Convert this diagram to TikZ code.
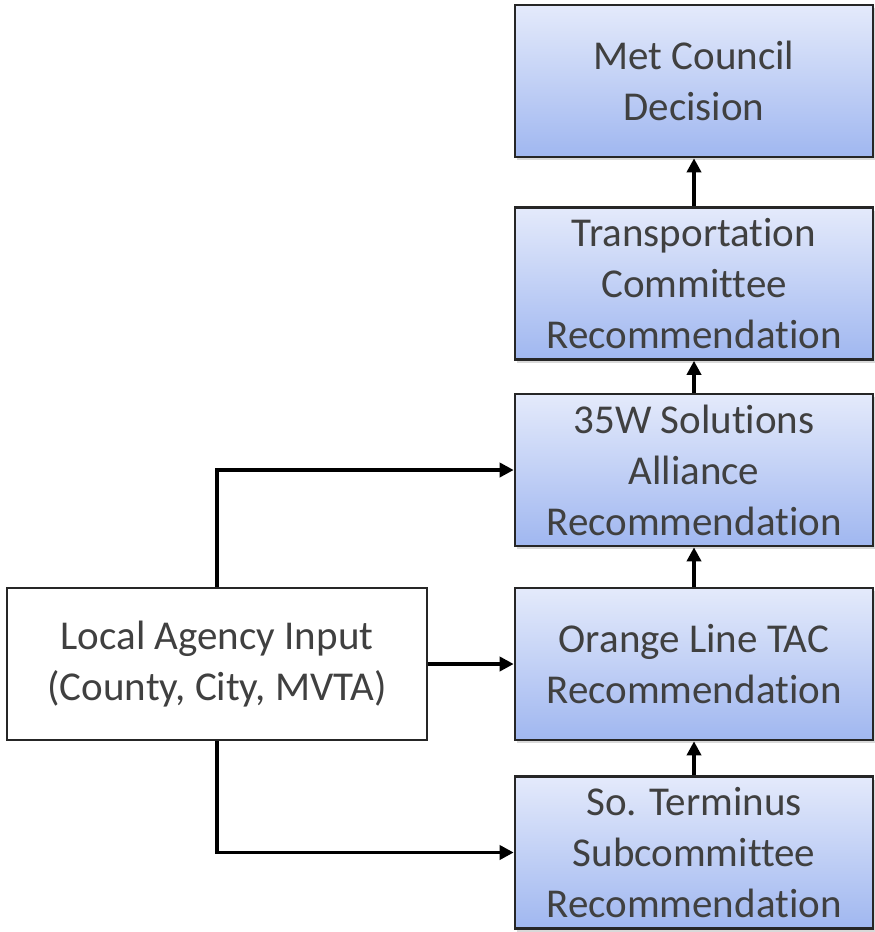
\documentclass[tikz,border=0pt]{standalone}
\usepackage{fontspec}
\setmainfont{Carlito}[Ligatures={NoCommon}]
\usepackage{xcolor}
\usetikzlibrary{arrows, arrows.meta, shadows}
\definecolor{boxtop}{RGB}{228,234,251}
\definecolor{boxbot}{RGB}{160,183,240}
\definecolor{txt}{RGB}{64,64,64}

\begin{document}
\begin{tikzpicture}[x=1pt,y=-1pt,
  stepbox/.style={draw=black!85,line width=2.6pt,top color=boxtop,bottom color=boxbot,
    minimum width=358pt,minimum height=152pt,align=center,text=txt,
    font=\fontsize{41}{51}\selectfont,inner sep=0pt,
    drop shadow={shadow xshift=2pt,shadow yshift=-3pt,opacity=0.3}},
  inbox/.style={draw=black!85,line width=2.6pt,fill=white,
    minimum width=420pt,minimum height=152pt,align=center,text=txt,
    font=\fontsize{41}{51}\selectfont,inner sep=0pt},
  link/.style={line width=3.6pt,-{Triangle[length=14pt,width=14pt]}}]
\useasboundingbox (0,0) rectangle (875,932);
\node[stepbox] (met) at (694,81) {Met Council\\Decision};
\node[stepbox] (trans) at (694,283.5) {Transportation\\Committee\\Recommendation};
\node[stepbox] (alliance) at (694,470) {35W Solutions\\Alliance\\Recommendation};
\node[stepbox] (orange) at (694,664) {Orange Line TAC\\Recommendation};
\node[stepbox] (term) at (694,852.5) {So. Terminus\\Subcommittee\\Recommendation};
\node[inbox] (local) at (217,664) {Local Agency Input\\(County, City, MVTA)};
\draw[link] (trans) -- (met);
\draw[link] (alliance) -- (trans);
\draw[link] (orange) -- (alliance);
\draw[link] (term) -- (orange);
\draw[link] (local.east) -- (orange.west);
\draw[link] (local.north) |- (alliance.west);
\draw[link] (local.south) |- (term.west);
\end{tikzpicture}
\end{document}
